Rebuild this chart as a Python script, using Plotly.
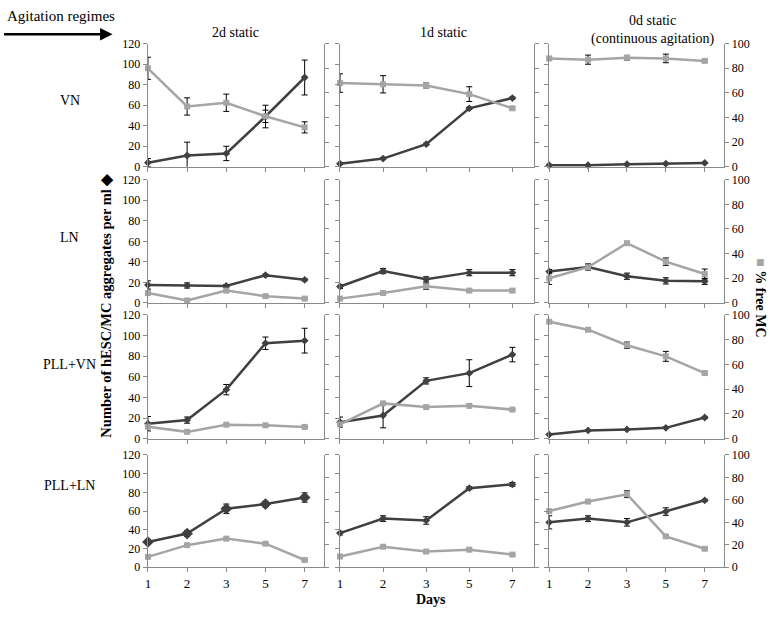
import plotly.graph_objects as go

days = ["1", "2", "3", "5", "7"]
regimes = ["2d static", "1d static", "0d static<br>(continuous agitation)"]
coatings = ["VN", "LN", "PLL+VN", "PLL+LN"]

# Number of hESC/MC aggregates per ml (left axis)
agg_vn_2d = [4, 11, 13, 49, 87]
agg_vn_2d_err = [4, 13, 7, 11, 17]
agg_vn_1d = [3, 8, 22, 57, 67]
agg_vn_1d_err = [1, 1, 1, 1, 1]
agg_vn_0d = [1.5, 1.5, 2.5, 3, 3.8]
agg_vn_0d_err = [0.5, 0.5, 0.5, 0.5, 0.5]

agg_ln_2d = [17.5, 17, 16.5, 27, 22.5]
agg_ln_2d_err = [4, 2.5, 1.5, 1, 1]
agg_ln_1d = [16, 31, 23, 29.5, 29.5]
agg_ln_1d_err = [2, 2.5, 2.5, 3, 3]
agg_ln_0d = [30.5, 35, 26, 21.5, 21]
agg_ln_0d_err = [2, 3, 3, 3, 3]

agg_pllvn_2d = [14.5, 18, 47.5, 92.5, 95]
agg_pllvn_2d_err = [7, 3, 5, 6, 12]
agg_pllvn_1d = [16, 22.5, 56, 63.5, 81.5]
agg_pllvn_1d_err = [5, 12, 3, 13, 7]
agg_pllvn_0d = [4, 8, 9, 10.5, 20.5]
agg_pllvn_0d_err = [0.5, 0.5, 0.5, 0.5, 1]

agg_pllln_2d = [27, 36, 62.5, 67.5, 74.5]
agg_pllln_2d_err = [2, 3, 5, 3, 5]
agg_pllln_1d = [36.5, 52, 50, 84.5, 88.5]
agg_pllln_1d_err = [2, 3, 4, 1.5, 2]
agg_pllln_0d = [48, 52, 48, 59.5, 71.5]
agg_pllln_0d_err = [7, 3, 4, 4, 1]

# % free MC (right axis)
free_vn_2d = [80, 49, 52, 41, 32]
free_vn_2d_err = [9, 7, 7, 5, 4.5]
free_vn_1d = [68, 67, 66, 59, 47.5]
free_vn_1d_err = [7.5, 7, 2, 6, 1]
free_vn_0d = [88, 87, 88.5, 88, 86]
free_vn_0d_err = [1, 3.7, 2, 3.5, 1]

free_ln_2d = [8, 2, 10, 5.5, 3.5]
free_ln_2d_err = [0.5, 0.5, 0.5, 0.5, 0.5]
free_ln_1d = [3.5, 8, 13.5, 10, 10]
free_ln_1d_err = [0.5, 1, 2.5, 1, 1]
free_ln_0d = [20, 29, 48.5, 33.5, 23.5]
free_ln_0d_err = [5, 2, 1, 3, 4]

free_pllvn_2d = [9.7, 5.5, 11.3, 10.8, 9.5]
free_pllvn_2d_err = [0.5, 0.5, 0.5, 0.5, 0.5]
free_pllvn_1d = [11.5, 28.5, 25.5, 26.5, 23.5]
free_pllvn_1d_err = [0.5, 0.5, 0.5, 0.5, 0.5]
free_pllvn_0d = [94.5, 88, 75.5, 66.5, 53]
free_pllvn_0d_err = [1, 1, 2.5, 4, 1]

free_pllln_2d = [9.3, 19.7, 25.5, 21, 6.5]
free_pllln_2d_err = [0.5, 0.5, 0.5, 0.5, 0.5]
free_pllln_1d = [9.6, 18.3, 14, 15.7, 11.3]
free_pllln_1d_err = [0.5, 0.5, 0.5, 0.5, 0.5]
free_pllln_0d = [50, 58.5, 65, 27.5, 16.5]
free_pllln_0d_err = [1, 1, 3, 1, 1]

agg = [
    [(agg_vn_2d, agg_vn_2d_err), (agg_vn_1d, agg_vn_1d_err), (agg_vn_0d, agg_vn_0d_err)],
    [(agg_ln_2d, agg_ln_2d_err), (agg_ln_1d, agg_ln_1d_err), (agg_ln_0d, agg_ln_0d_err)],
    [(agg_pllvn_2d, agg_pllvn_2d_err), (agg_pllvn_1d, agg_pllvn_1d_err), (agg_pllvn_0d, agg_pllvn_0d_err)],
    [(agg_pllln_2d, agg_pllln_2d_err), (agg_pllln_1d, agg_pllln_1d_err), (agg_pllln_0d, agg_pllln_0d_err)],
]
free = [
    [(free_vn_2d, free_vn_2d_err), (free_vn_1d, free_vn_1d_err), (free_vn_0d, free_vn_0d_err)],
    [(free_ln_2d, free_ln_2d_err), (free_ln_1d, free_ln_1d_err), (free_ln_0d, free_ln_0d_err)],
    [(free_pllvn_2d, free_pllvn_2d_err), (free_pllvn_1d, free_pllvn_1d_err), (free_pllvn_0d, free_pllvn_0d_err)],
    [(free_pllln_2d, free_pllln_2d_err), (free_pllln_1d, free_pllln_1d_err), (free_pllln_0d, free_pllln_0d_err)],
]

W, H = 770, 617
FONT = "Liberation Serif"
DARK = "#404040"
GRAY = "#a5a5a5"
AXC = "#8a8a8a"

col_px = [(145.5, 322.5), (338.3, 533.0), (548.3, 724.0)]
row_px = [(37.5, 163.5), (176.7, 302.8), (315.0, 441.7), (458.3, 573.3)]


def px_x(v):
    return v / W


def px_y(v):
    return 1 - v / H


fig = go.Figure()
layout = {}

for r in range(4):
    for c in range(3):
        k = r * 3 + c
        xn = "x" if k == 0 else f"x{k + 1}"
        yl = "y" if k == 0 else f"y{k + 1}"
        yr = f"y{k + 13}"
        a_vals, a_err = agg[r][c]
        f_vals, f_err = free[r][c]
        dsize = 9 if (r == 3 and c == 0) else 6
        fig.add_trace(go.Scatter(
            x=days, y=a_vals, xaxis=xn, yaxis=yl, mode="lines+markers",
            line=dict(color=DARK, width=2.5),
            marker=dict(symbol="diamond", size=dsize, color=DARK),
            error_y=dict(type="data", array=a_err, visible=True, color="black",
                         thickness=1, width=3),
            cliponaxis=False, showlegend=False, hoverinfo="skip"))
        fig.add_trace(go.Scatter(
            x=days, y=f_vals, xaxis=xn, yaxis=yr, mode="lines+markers",
            line=dict(color=GRAY, width=2.5),
            marker=dict(symbol="square", size=6, color=GRAY),
            error_y=dict(type="data", array=f_err, visible=True, color="black",
                         thickness=1, width=3),
            cliponaxis=False, showlegend=False, hoverinfo="skip"))

        xd = [px_x(col_px[c][0]), px_x(col_px[c][1])]
        yd = [px_y(row_px[r][1]), px_y(row_px[r][0])]
        xkey = "xaxis" if k == 0 else f"xaxis{k + 1}"
        ylkey = "yaxis" if k == 0 else f"yaxis{k + 1}"
        yrkey = f"yaxis{k + 13}"
        layout[xkey] = dict(
            domain=xd, anchor=yl, type="category", range=[0, 4.5],
            showline=True, linecolor=AXC, linewidth=1.2, ticks="outside",
            ticklen=4, tickcolor=AXC, showgrid=False, zeroline=False,
            showticklabels=(r == 3), tickfont=dict(family=FONT, size=13, color="black"),
            fixedrange=True)
        layout[ylkey] = dict(
            domain=yd, anchor=xn, range=[0, 120], dtick=20, tick0=0,
            showline=True, linecolor=AXC, linewidth=1.2, ticks="outside",
            ticklen=4, tickcolor=AXC, showgrid=False, zeroline=False,
            showticklabels=(c == 0), tickfont=dict(family=FONT, size=12, color="black"),
            fixedrange=True)
        layout[yrkey] = dict(
            overlaying=yl, anchor=xn, side="right", range=[0, 100], dtick=20, tick0=0,
            showline=True, linecolor=AXC, linewidth=1.2, ticks="outside",
            ticklen=4, tickcolor=AXC, showgrid=False, zeroline=False,
            showticklabels=(c == 2), tickfont=dict(family=FONT, size=12, color="black"),
            fixedrange=True)

annotations = []
# column titles
col_title_pos = [(233, 26), (442, 26), (653, 24)]
for c, t in enumerate(regimes):
    annotations.append(dict(text=t, x=px_x(col_title_pos[c][0]), y=px_y(col_title_pos[c][1]),
                            xref="paper", yref="paper", showarrow=False,
                            font=dict(family=FONT, size=14, color="black"),
                            xanchor="center", yanchor="middle"))
# row labels
row_label_y = [96, 236, 366, 490]
for r, t in enumerate(coatings):
    annotations.append(dict(text=t, x=px_x(67), y=px_y(row_label_y[r]),
                            xref="paper", yref="paper", showarrow=False,
                            font=dict(family=FONT, size=14, color="black"),
                            xanchor="center", yanchor="middle"))
# header
annotations.append(dict(text="Agitation regimes", x=px_x(2), y=px_y(9),
                        xref="paper", yref="paper", showarrow=False,
                        font=dict(family=FONT, size=15, color="black"),
                        xanchor="left", yanchor="middle"))
annotations.append(dict(text="", x=px_x(110), y=px_y(28), ax=-110, ay=0,
                        xref="paper", yref="paper", showarrow=True,
                        arrowhead=2, arrowsize=1, arrowwidth=2.5, arrowcolor="black"))
# axis titles
annotations.append(dict(text="<b>Number of hESC/MC aggregates per ml ◆</b>",
                        x=px_x(103), y=px_y(306), xref="paper", yref="paper",
                        showarrow=False, textangle=-90,
                        font=dict(family=FONT, size=14.5, color="black"),
                        xanchor="center", yanchor="middle"))
annotations.append(dict(text=f"<b><span style='color:{GRAY}'>■</span> % free MC</b>",
                        x=px_x(761), y=px_y(297), xref="paper", yref="paper",
                        showarrow=False, textangle=90,
                        font=dict(family=FONT, size=14, color="black"),
                        xanchor="center", yanchor="middle"))
annotations.append(dict(text="<b>Days</b>", x=px_x(430), y=px_y(606),
                        xref="paper", yref="paper", showarrow=False,
                        font=dict(family=FONT, size=14, color="black"),
                        xanchor="center", yanchor="middle"))

fig.update_layout(
    width=W, height=H, margin=dict(l=0, r=0, t=0, b=0),
    paper_bgcolor="white", plot_bgcolor="white",
    font=dict(family=FONT, color="black"),
    annotations=annotations, showlegend=False, hovermode=False,
    **layout)

fig.write_html("out.html", config={"displayModeBar": False, "staticPlot": True},
               post_script="document.body.style.margin='0px';document.body.style.overflow='hidden';")
